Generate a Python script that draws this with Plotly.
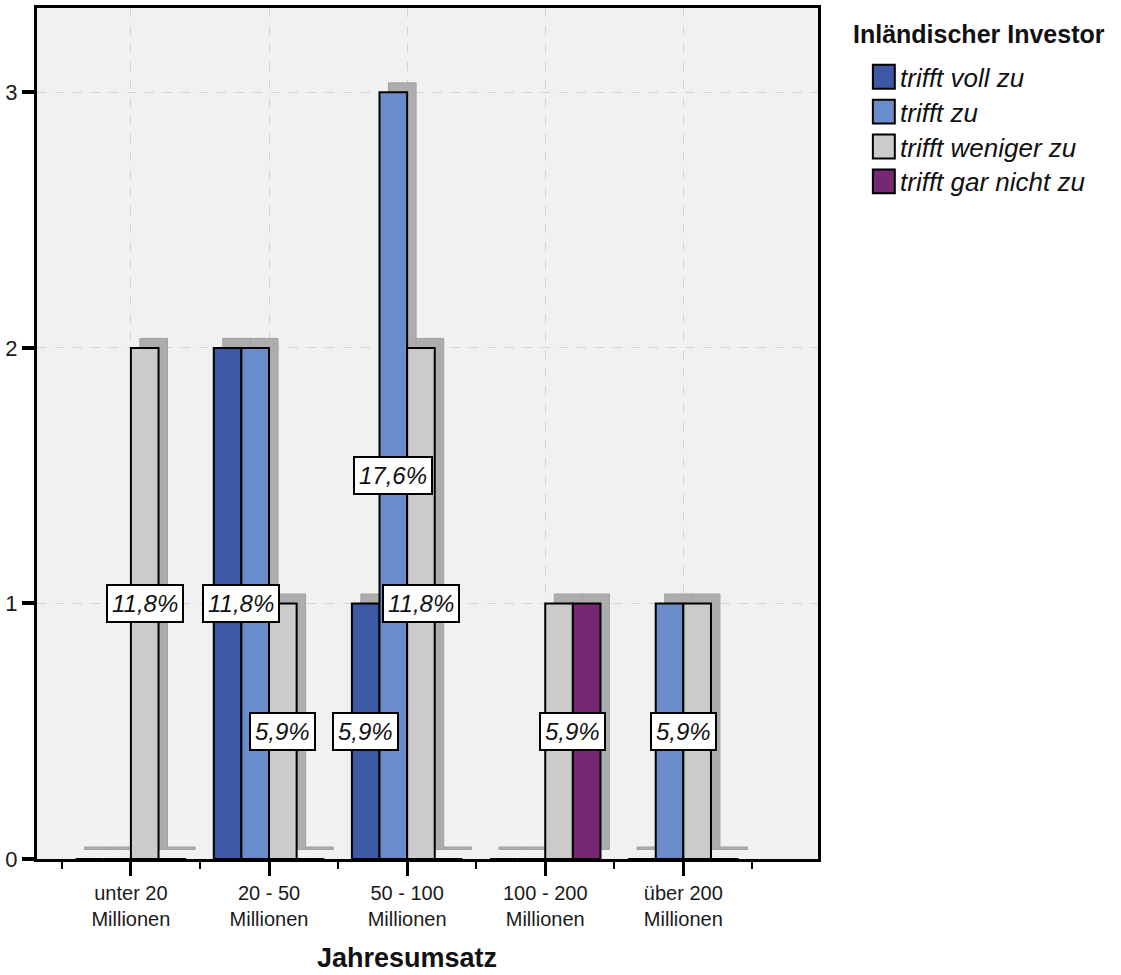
import plotly.graph_objects as go

# ---------------- data ----------------
categories = ["unter 20<br>Millionen", "20 - 50<br>Millionen", "50 - 100<br>Millionen",
              "100 - 200<br>Millionen", "über 200<br>Millionen"]
series_names = ["trifft voll zu", "trifft zu", "trifft weniger zu", "trifft gar nicht zu"]
trifft_voll_zu = [0, 2, 1, 0, 0]
trifft_zu = [0, 2, 3, 0, 1]
trifft_weniger_zu = [2, 1, 2, 1, 1]
trifft_gar_nicht_zu = [0, 0, 0, 1, 0]
y_tick_values = [0, 1, 2, 3]

legend_title = "Inländischer Investor"
x_title = "Jahresumsatz"

# ---------------- style ----------------
series = [trifft_voll_zu, trifft_zu, trifft_weniger_zu, trifft_gar_nicht_zu]
colors = ["#3d58a4", "#6a8ccb", "#cbcbcb", "#772873"]
FONT = "Liberation Sans, Arial, sans-serif"

W, H = 1121, 975
L, R, T, B = 35, 303, 5, 116
XR = [-0.68, 4.975]
YR = [0, 3.33]
plot_w = W - L - R
plot_h = H - T - B
px_x = plot_w / (XR[1] - XR[0])
px_y = plot_h / (YR[1] - YR[0])
SH_DX = 9 / px_x      # shadow shift right
SH_DY = 9.5 / px_y    # shadow shift up
EPS = 0.01            # so zero shadows still show as a thin line

xpos = list(range(len(categories)))
total = sum(sum(s) for s in series)
bar_w = 0.2

fig = go.Figure()

# empty trace so the main (visible) axes get drawn
fig.add_trace(go.Scatter(x=[], y=[], xaxis="x", yaxis="y", showlegend=False, hoverinfo="skip"))

# shadows
for name, vals in zip(series_names, series):
    fig.add_trace(go.Bar(
        x=xpos, y=[max(v, EPS) for v in vals], xaxis="x2", yaxis="y2",
        marker=dict(color="#adadad", line=dict(color="#a2a2a2", width=1)),
        showlegend=False, hoverinfo="skip", name=name + " (Schatten)"))

# main bars
for name, vals, c in zip(series_names, series, colors):
    fig.add_trace(go.Bar(
        x=xpos, y=vals, xaxis="x3", yaxis="y3", name=name,
        marker=dict(color=c, line=dict(color="black", width=2)),
        showlegend=False))

# percentage labels (adjacent equal bars share one label)
annotations = []
n_ser = len(series)
for ci in xpos:
    vals = [s[ci] for s in series]
    i = 0
    while i < n_ser:
        v = vals[i]
        if v == 0:
            i += 1
            continue
        j = i
        while j + 1 < n_ser and vals[j + 1] == v:
            j += 1
        off = ((i + j) / 2 - (n_ser - 1) / 2) * bar_w
        pct = f"{v / total * 100:.1f}".replace(".", ",") + "%"
        annotations.append(dict(
            x=ci + off, y=v / 2, xref="x3", yref="y3", text=pct, showarrow=False,
            font=dict(family=FONT, size=24, color="#111", style="italic"),
            bgcolor="white", bordercolor="black", borderwidth=2, borderpad=4))
        i = j + 1


def pxx(p):
    return (p - L) / plot_w


def pxy(p):
    return (H - B - p) / plot_h


shapes = [dict(type="rect", xref="paper", yref="paper", x0=0, x1=1, y0=0, y1=1,
               fillcolor="#f1f1f1", line=dict(width=0), layer="below")]

# manual legend
annotations.append(dict(x=pxx(851), y=pxy(31), xref="paper", yref="paper", text=legend_title,
                        showarrow=False, xanchor="left", yanchor="middle",
                        font=dict(family=FONT, size=25, color="#111", weight="bold")))
for k, (name, c) in enumerate(zip(series_names, colors)):
    cy = 74 + 35 * k
    shapes.append(dict(type="rect", xref="paper", yref="paper",
                       x0=pxx(873), x1=pxx(895), y0=pxy(cy + 12), y1=pxy(cy - 12),
                       fillcolor=c, line=dict(color="black", width=2)))
    annotations.append(dict(x=pxx(898), y=pxy(cy + 1), xref="paper", yref="paper", text=name,
                            showarrow=False, xanchor="left", yanchor="middle",
                            font=dict(family=FONT, size=26, color="#111", style="italic")))

# x axis title
annotations.append(dict(x=pxx(406), y=pxy(958), xref="paper", yref="paper", text=x_title,
                        showarrow=False, xanchor="center", yanchor="middle",
                        font=dict(family=FONT, size=27, color="#111", weight="bold")))

fig.update_layout(
    width=W, height=H,
    margin=dict(l=L, r=R, t=T, b=B, pad=0),
    paper_bgcolor="white", plot_bgcolor="rgba(0,0,0,0)",
    barmode="group", bargap=0.2, bargroupgap=0,
    showlegend=False,
    font=dict(family=FONT, color="#222"),
    xaxis=dict(range=XR, tickmode="array", tickvals=xpos, ticktext=categories,
               ticks="outside", ticklen=14, tickwidth=3, tickcolor="black",
               tickfont=dict(size=20, color="#1a1a1a"),
               showgrid=True, gridcolor="#d3d3d3", griddash="dash", gridwidth=1,
               showline=True, linecolor="black", linewidth=3, mirror=True,
               zeroline=False, fixedrange=True,
               minor=dict(tickmode="array", tickvals=[v + 0.5 for v in [-1] + xpos],
                          ticks="outside", ticklen=7, tickwidth=2, tickcolor="black",
                          showgrid=False)),
    yaxis=dict(range=YR, tickmode="array", tickvals=y_tick_values,
               ticks="outside", ticklen=12, tickwidth=4, tickcolor="black",
               tickfont=dict(size=22, color="#1a1a1a"),
               showgrid=True, gridcolor="#d3d3d3", griddash="dash", gridwidth=1,
               showline=True, linecolor="black", linewidth=3, mirror=True,
               zeroline=False, fixedrange=True),
    xaxis2=dict(range=[XR[0] - SH_DX, XR[1] - SH_DX], overlaying="x", anchor="y2",
                visible=False, fixedrange=True),
    yaxis2=dict(range=[YR[0] - SH_DY, YR[1] - SH_DY], overlaying="y", anchor="x2",
                visible=False, fixedrange=True),
    xaxis3=dict(range=XR, overlaying="x", anchor="y3", visible=False, fixedrange=True),
    yaxis3=dict(range=YR, overlaying="y", anchor="x3", visible=False, fixedrange=True),
    shapes=shapes,
    annotations=annotations,
)

fig.write_html("out.html", config={"displayModeBar": False},
               post_script="document.body.style.margin='0';")
